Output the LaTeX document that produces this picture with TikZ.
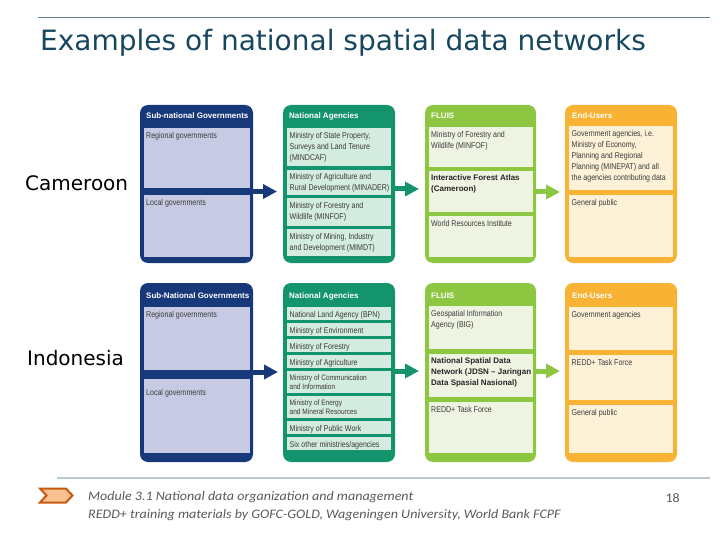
\documentclass[tikz,border=0pt]{standalone}
\usepackage{fontspec}
\setmainfont{Liberation Sans}
\newfontfamily\nf[FakeStretch=0.84]{Liberation Sans}
\newfontfamily\tf{DejaVu Sans}
\newfontfamily\ff[FakeStretch=1.08]{Carlito}
\usetikzlibrary{arrows.meta}
\definecolor{navy}{HTML}{17397A}
\definecolor{navyin}{HTML}{C7CAE3}
\definecolor{teal}{HTML}{13946C}
\definecolor{tealin}{HTML}{D4ECDF}
\definecolor{lime}{HTML}{8DC641}
\definecolor{limein}{HTML}{EEF4E1}
\definecolor{orng}{HTML}{F8B334}
\definecolor{orngin}{HTML}{FDF2D8}
\definecolor{titlec}{HTML}{17475E}
\definecolor{topline}{HTML}{5F8495}
\definecolor{footline}{HTML}{B7C9D1}
\definecolor{chevfill}{HTML}{FAC090}
\definecolor{chevdraw}{HTML}{C55A11}
\definecolor{foottxt}{HTML}{595959}
\definecolor{boxtxt}{HTML}{3A3A3A}
\tikzset{
  obox/.style={fill=#1, rounded corners=8pt},
  hdr/.style={font=\bfseries\fontsize{8}{10}\selectfont, text=white, anchor=base west, inner sep=0},
  txt/.style={font=\nf\fontsize{8.4}{11}\selectfont, text=boxtxt, anchor=north west, inner sep=0, align=left,
    execute at begin node={\rule{0pt}{6.5pt}}},
  btxt/.style={txt, font=\bfseries\fontsize{8}{11}\selectfont, text=black!85},
  arr/.style={draw=#1, line width=5pt, -{Triangle[length=14pt,width=14pt]}},
  side/.style={font=\tf\fontsize{20}{24}\selectfont, text=black, anchor=west, inner sep=0},
  foot/.style={font=\ff\itshape\fontsize{13}{15}\selectfont, text=foottxt, anchor=base west, inner sep=0}
}
% name, x1, y1, x2, y2, fill, text style, text (optional first arg: text offset)
\newcommand\ibox[9][4]{%
  \fill[#7] (#3,#4) rectangle (#5,#6);
  \node[#8] (#2) at (#3+2.5,#4+#1) {#9};}
\begin{document}
\begin{tikzpicture}[x=1pt,y=-1pt]
\useasboundingbox (0,0) rectangle (720,540);
% title
\draw[topline, line width=0.8pt] (38,17) -- (710,17);
\node[font=\tf\fontsize{28}{32}\selectfont, text=titlec, anchor=base west, inner sep=0] (title) at (40,51) {Examples of national spatial data networks};

% side labels
\node[side] (cam) at (25,183) {Cameroon};
\node[side] (ind) at (27,358) {Indonesia};

% ---------- Cameroon ----------
\path[obox=navy] (140,105) rectangle (253,263);
\path[obox=teal] (283,105) rectangle (395,263);
\path[obox=lime] (425,105) rectangle (536,263);
\path[obox=orng] (565,105) rectangle (677,263);
\coordinate (A1e) at (253,191.5);
\coordinate (A2w) at (283,191.5);
\coordinate (A2e) at (395,189);
\coordinate (A3w) at (425,189);
\coordinate (A3e) at (536,192);
\coordinate (A4w) at (565,192);

\node[hdr] (hA1) at (146,119) {Sub-national Governments};
\node[hdr] (hA2) at (289,119) {National Agencies};
\node[hdr] (hA3) at (431,119) {FLUIS};
\node[hdr] (hA4) at (572,119) {End-Users};

\ibox{a11}{143.5}{128}{249.5}{188}{navyin}{txt}{Regional governments}
\ibox{a12}{143.5}{195}{249.5}{257}{navyin}{txt}{Local governments}

\ibox{a21}{287}{128}{391}{166}{tealin}{txt}{Ministry of State Property,\\Surveys and Land Tenure\\(MINDCAF)}
\ibox[3]{a22}{287}{170}{391}{195}{tealin}{txt}{Ministry of Agriculture and\\Rural Development (MINADER)}
\ibox{a23}{287}{198.5}{391}{226}{tealin}{txt}{Ministry of Forestry and\\Wildlife (MINFOF)}
\ibox{a24}{287}{229}{391}{256}{tealin}{txt}{Ministry of Mining, Industry\\and Development (MIMDT)}

\ibox{a31}{428.5}{127}{532.5}{167}{limein}{txt}{Ministry of Forestry and\\Wildlife (MINFOF)}
\ibox{a32}{428.5}{171}{532.5}{212}{limein}{btxt}{Interactive Forest Atlas\\(Cameroon)}
\ibox{a33}{428.5}{216}{532.5}{257}{limein}{txt}{World Resources Institute}

\ibox{a41}{569}{126}{673}{190}{orngin}{txt}{Government agencies, i.e.\\Ministry of Economy,\\Planning and Regional\\Planning (MINEPAT) and all\\the agencies contributing data}
\ibox{a42}{569}{195}{673}{257}{orngin}{txt}{General public}

\draw[arr=navy, shorten >=6pt] (A1e) -- (A2w);
\draw[arr=teal, shorten >=6pt] (A2e) -- (A3w);
\draw[arr=lime, shorten >=5pt] (A3e) -- (A4w);

% ---------- Indonesia ----------
\path[obox=navy] (140,283) rectangle (253,462);
\path[obox=teal] (283,283) rectangle (395,462);
\path[obox=lime] (425,283) rectangle (536,462);
\path[obox=orng] (565,283) rectangle (677,462);
\coordinate (B1e) at (253,372);
\coordinate (B2w) at (283,372);
\coordinate (B2e) at (395,371);
\coordinate (B3w) at (425,371);
\coordinate (B3e) at (536,371);
\coordinate (B4w) at (565,371);

\node[hdr] (hB1) at (146,298) {Sub-National Governments};
\node[hdr] (hB2) at (289,298) {National Agencies};
\node[hdr] (hB3) at (431,298) {FLUIS};
\node[hdr] (hB4) at (572,298) {End-Users};

\ibox{b11}{143.5}{307}{249.5}{370}{navyin}{txt}{Regional governments}
\ibox[10]{b12}{143.5}{379}{249.5}{453}{navyin}{txt}{Local governments}

\ibox{b21}{287}{307}{391}{320}{tealin}{txt}{National Land Agency (BPN)}
\ibox{b22}{287}{323}{391}{336}{tealin}{txt}{Ministry of Environment}
\ibox{b23}{287}{339}{391}{352}{tealin}{txt}{Ministry of Forestry}
\ibox{b24}{287}{355}{391}{368}{tealin}{txt}{Ministry of Agriculture}
\ibox{b25}{287}{371}{391}{393}{tealin}{txt, font=\nf\fontsize{7.8}{8.8}\selectfont}{Ministry of Communication\\and Information}
\ibox{b26}{287}{396}{391}{418}{tealin}{txt, font=\nf\fontsize{7.8}{8.8}\selectfont}{Ministry of Energy\\and Mineral Resources}
\ibox{b27}{287}{421}{391}{434}{tealin}{txt}{Ministry of Public Work}
\ibox{b28}{287}{437}{391}{450}{tealin}{txt}{Six other ministries/agencies}

\ibox{b31}{428.5}{306}{532.5}{349}{limein}{txt}{Geospatial Information\\Agency (BIG)}
\ibox{b32}{428.5}{354}{532.5}{397}{limein}{btxt}{National Spatial Data\\Network (JDSN -- Jaringan\\Data Spasial Nasional)}
\ibox{b33}{428.5}{402}{532.5}{453}{limein}{txt}{REDD+ Task Force}

\ibox{b41}{569}{307}{673}{350}{orngin}{txt}{Government agencies}
\ibox{b42}{569}{355}{673}{400}{orngin}{txt}{REDD+ Task Force}
\ibox{b43}{569}{405}{673}{453}{orngin}{txt}{General public}

\draw[arr=navy, shorten >=5pt] (B1e) -- (B2w);
\draw[arr=teal, shorten >=6pt] (B2e) -- (B3w);
\draw[arr=lime, shorten >=5pt] (B3e) -- (B4w);

% ---------- footer ----------
\draw[footline, line width=2pt] (57,478) -- (710,478);
\filldraw[fill=chevfill, draw=chevdraw, line width=2pt, line join=miter]
  (40,488.5) -- (66,488.5) -- (72.5,495.5) -- (66,502.5) -- (40,502.5) -- (46.5,495.5) -- cycle;
\node[foot] (f1) at (88,500) {Module 3.1 National data organization and management};
\node[foot] (f2) at (88,518) {REDD+ training materials by GOFC-GOLD, Wageningen University, World Bank FCPF};
\node[font=\ff\fontsize{13}{15}\selectfont, text=foottxt, anchor=base east, inner sep=0] (pg) at (680,502) {18};
\end{tikzpicture}
\end{document}
